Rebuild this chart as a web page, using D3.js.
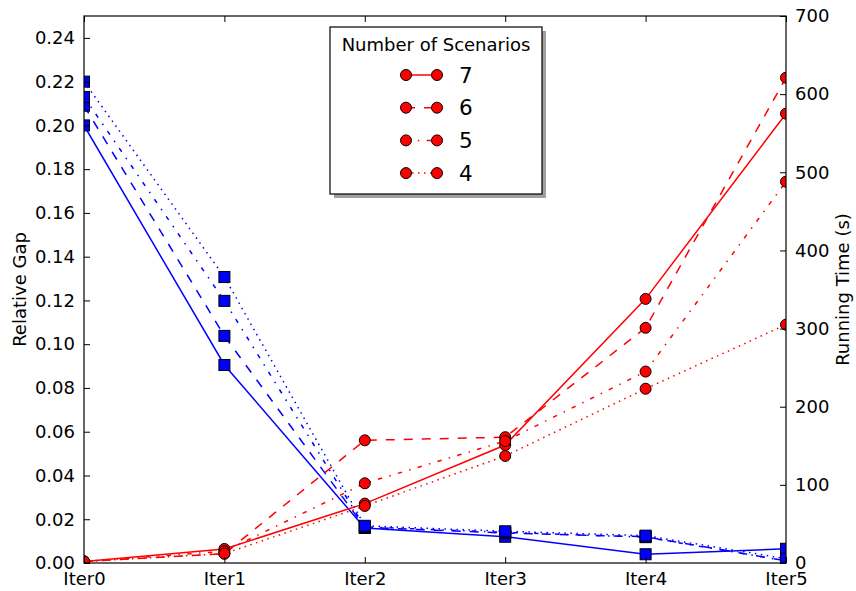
<!DOCTYPE html>
<html>
<head>
<meta charset="utf-8">
<script src="https://cdn.jsdelivr.net/npm/d3@7"></script>
<style>
  html, body { margin: 0; padding: 0; background: #fff; }
  svg { display: block; font-family: "DejaVu Sans", sans-serif; }
</style>
</head>
<body>
<svg id="chart" width="856" height="591"></svg>
<script>
// Iterations along the x axis
const iterations = ["Iter0", "Iter1", "Iter2", "Iter3", "Iter4", "Iter5"];
// Number of scenarios, one line style each
const scenarios = ["7", "6", "5", "4"];

// Relative gap per iteration (left axis, blue squares)
const gap7 = [0.200, 0.0905, 0.0160, 0.0120, 0.0040, 0.0065];
const gap6 = [0.209, 0.1038, 0.0163, 0.0137, 0.0120, 0.0010];
const gap5 = [0.213, 0.1198, 0.0165, 0.0140, 0.0118, 0.0010];
const gap4 = [0.220, 0.1307, 0.0170, 0.0145, 0.0125, 0.0020];

// Running time in seconds per iteration (right axis, red circles)
const time7 = [2, 18, 76, 151, 338, 575];
const time6 = [2, 12, 157, 161, 301, 621];
const time5 = [2, 15, 102, 156, 245, 488];
const time4 = [2, 12, 73, 137, 223, 305];

const leftTicks = [0, 0.02, 0.04, 0.06, 0.08, 0.10, 0.12, 0.14, 0.16, 0.18, 0.20, 0.22, 0.24];
const rightTicks = [0, 100, 200, 300, 400, 500, 600, 700];

const gapSeries = [gap7, gap6, gap5, gap4];
const timeSeries = [time7, time6, time5, time4];
const dashes = [null, "9,9", "4.4,7.4,1.5,7.4", "1.5,4.5"];

const W = 856, H = 591;
const m = { left: 84, right: 70, top: 16, bottom: 28 };
const iw = W - m.left - m.right, ih = H - m.top - m.bottom;

const svg = d3.select("#chart");
const g = svg.append("g").attr("transform", `translate(${m.left},${m.top})`);

const x = d3.scalePoint().domain(iterations).range([0, iw]);
const yL = d3.scaleLinear().domain([0, 0.25]).range([ih, 0]);
const yR = d3.scaleLinear().domain([0, 700]).range([ih, 0]);

svg.append("defs").append("clipPath").attr("id", "plot")
  .append("rect").attr("width", iw).attr("height", ih);

const plot = g.append("g").attr("clip-path", "url(#plot)");

function drawSeries(series, y, color, marker) {
  series.forEach((vals, i) => {
    const line = d3.line().x((d, k) => x(iterations[k])).y(d => y(d));
    plot.append("path")
      .attr("d", line(vals))
      .attr("fill", "none")
      .attr("stroke", color)
      .attr("stroke-width", 1.5)
      .attr("stroke-dasharray", dashes[i]);
    vals.forEach((v, k) => {
      const cx = x(iterations[k]), cy = y(v);
      if (marker === "square") {
        plot.append("rect")
          .attr("x", cx - 5.5).attr("y", cy - 5.5)
          .attr("width", 11).attr("height", 11)
          .attr("fill", color).attr("stroke", "#000").attr("stroke-width", 1);
      } else {
        plot.append("circle")
          .attr("cx", cx).attr("cy", cy).attr("r", 5.5)
          .attr("fill", color).attr("stroke", "#000").attr("stroke-width", 1);
      }
    });
  });
}

drawSeries(gapSeries, yL, "#0000ff", "square");
drawSeries(timeSeries, yR, "#ff0000", "circle");

// Axes with inward ticks
const fs = 18;
const axB = g.append("g").attr("transform", `translate(0,${ih})`)
  .call(d3.axisBottom(x).tickSizeInner(-6).tickSizeOuter(0).tickPadding(9));
const axT = g.append("g")
  .call(d3.axisTop(x).tickSizeInner(-6).tickSizeOuter(0).tickFormat(""));
const axL = g.append("g")
  .call(d3.axisLeft(yL).tickValues(leftTicks).tickFormat(d3.format(".2f"))
    .tickSizeInner(-6).tickSizeOuter(0).tickPadding(9));
const axR = g.append("g").attr("transform", `translate(${iw},0)`)
  .call(d3.axisRight(yR).tickValues(rightTicks).tickFormat(d3.format("d"))
    .tickSizeInner(-6).tickSizeOuter(0).tickPadding(9));

[axB, axT, axL, axR].forEach(a => {
  a.select(".domain").remove();
  a.selectAll("line").attr("stroke", "#000").attr("stroke-width", 1);
  a.selectAll("text").attr("font-size", fs).attr("fill", "#000")
    .attr("font-family", "DejaVu Sans, sans-serif");
});
axB.selectAll("text").attr("dy", "0.72em");

// Frame
g.append("rect").attr("width", iw).attr("height", ih)
  .attr("fill", "none").attr("stroke", "#000").attr("stroke-width", 1.2);

// Axis titles
svg.append("text")
  .attr("transform", `translate(26,${m.top + ih / 2}) rotate(-90)`)
  .attr("text-anchor", "middle").attr("font-size", fs).text("Relative Gap");
svg.append("text")
  .attr("transform", `translate(849,${m.top + ih / 2}) rotate(-90)`)
  .attr("text-anchor", "middle").attr("font-size", fs).text("Running Time (s)");

// Legend
const lg = svg.append("g").attr("transform", "translate(330,27)");
const lw = 212, lh = 167;
lg.append("rect").attr("x", 4).attr("y", 4).attr("width", lw).attr("height", lh)
  .attr("fill", "#a0a0a0");
lg.append("rect").attr("width", lw).attr("height", lh)
  .attr("fill", "#fff").attr("stroke", "#000").attr("stroke-width", 1.2);
lg.append("text").attr("x", lw / 2).attr("y", 24)
  .attr("text-anchor", "middle").attr("font-size", fs).text("Number of Scenarios");
scenarios.forEach((s, i) => {
  const yy = 48 + i * 32.7;
  lg.append("line").attr("x1", 76).attr("x2", 107).attr("y1", yy).attr("y2", yy)
    .attr("stroke", "#ff0000").attr("stroke-width", 1.5)
    .attr("stroke-dasharray", dashes[i]);
  [76, 107].forEach(cx => lg.append("circle").attr("cx", cx).attr("cy", yy).attr("r", 5.5)
    .attr("fill", "#ff0000").attr("stroke", "#000").attr("stroke-width", 1));
  lg.append("text").attr("x", 129).attr("y", yy).attr("dy", "0.36em")
    .attr("font-size", 21.5).text(s);
});
</script>
</body>
</html>
